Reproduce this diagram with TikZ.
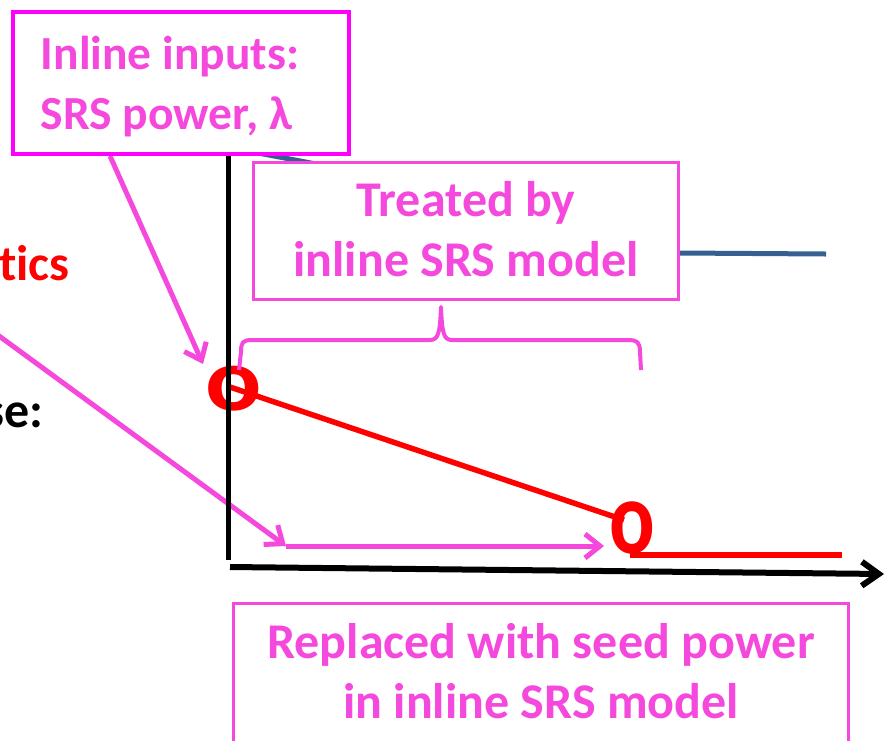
\documentclass[tikz,border=0pt]{standalone}
\usepackage{fontspec}
\setmainfont{Carlito}[Ligatures=NoCommon]
\usetikzlibrary{arrows.meta,calc}
\definecolor{pinkc}{RGB}{245,72,220}
\definecolor{magc}{RGB}{255,0,255}
\definecolor{bluec}{RGB}{54,96,146}
\definecolor{redc}{RGB}{255,0,0}
\tikzset{
  ptext/.style={text=pinkc, font=\fontsize{50}{60}\selectfont\bfseries, inner sep=0pt, align=center},
  pbox/.style={draw=pinkc, line width=3pt, fill=white, inner sep=0pt},
  mbox/.style={draw=magc, line width=4pt, fill=white, inner sep=0pt},
  parrow/.style={draw=pinkc, line width=5pt, -{Straight Barb[length=15pt,width=24pt]}},
  redline/.style={draw=redc, line width=5.5pt},
  axisline/.style={draw=black, line width=5pt},
  marker/.style={text=redc, inner sep=0pt, font=\fontsize{100}{100}\selectfont\bfseries},
  sidetext/.style={inner sep=0pt, font=\fontsize{50}{60}\selectfont\bfseries, anchor=base east}
}
\begin{document}
\begin{tikzpicture}[x=1pt,y=-1pt]
\useasboundingbox (0,0) rectangle (885,740);
% blue curve (mostly hidden)
\coordinate (b0) at (232,148);
\coordinate (b1c) at (400,180);
\coordinate (b2c) at (600,250);
\coordinate (b3) at (680,253);
\coordinate (b4) at (826,254);
\draw[bluec, line width=5pt] (b0) -- (b1c) -- (b2c) -- (b3) -- (b4);
% side texts
\node[sidetext, text=redc] (tics) at (70,280) {tics};
\node[sidetext, text=black] (se) at (44,427) {se:};
% markers
\node[marker] (m1) at (234,389) {\scalebox{1.05}[0.9]{o}};
\node[marker] (m2) at (632,528) {\scalebox{0.85}[1.05]{o}};
% red lines
\coordinate (r1) at (227,386);
\coordinate (r2) at (624,520);
\coordinate (r3) at (630,555);
\coordinate (r4) at (842,555);
\draw[redline] (r1) -- (r2);
\draw[redline] (r3) -- (r4);
% pink arrows
\coordinate (a1s) at (110,156);
\coordinate (a1e) at (203,364);
\coordinate (a2s) at (-5,333);
\coordinate (a2e) at (286,546);
\coordinate (a3e) at (604,546);
\draw[parrow] (a1s) -- (a1e);
\draw[parrow] (a2s) -- (a2e);
\draw[parrow] (a2e) -- (a3e);
% axes
\coordinate (yt) at (228,150);
\coordinate (yb) at (228,560);
\coordinate (xs) at (230,567);
\coordinate (xe) at (884,574);
\draw[axisline] (yt) -- (yb);
\draw[axisline, line width=6pt, -{Straight Barb[length=17pt,width=24pt]}] (xs) -- (xe);
% brace
\draw[pinkc, line width=4pt, line join=round]
  (239,370) -- (241,352) .. controls (241,342) and (243,340) .. (252,340)
  -- (430,340) .. controls (438,340) and (440,334) .. (441,307)
  .. controls (442,334) and (444,340) .. (452,340)
  -- (628,340) .. controls (637,340) and (640,342) .. (640,352) -- (641,370);
% boxes
\node[mbox, minimum width=336pt, minimum height=142pt] (box1) at (181,83) {};
\node[ptext, font=\fontsize{47.5}{60}\selectfont\bfseries, align=left] (t1) at (170,87) {Inline inputs:\\SRS power, λ};
\node[pbox, minimum width=425pt, minimum height=137pt] (box2) at (465.5,231) {};
\node[ptext] (t2) at (466,229.5) {Treated by\\inline SRS model};
\node[pbox, minimum width=615pt, minimum height=160pt] (box3) at (540.5,683) {};
\node[ptext] (t3) at (541,671.5) {Replaced with seed power\\in inline SRS model};
\end{tikzpicture}
\end{document}
